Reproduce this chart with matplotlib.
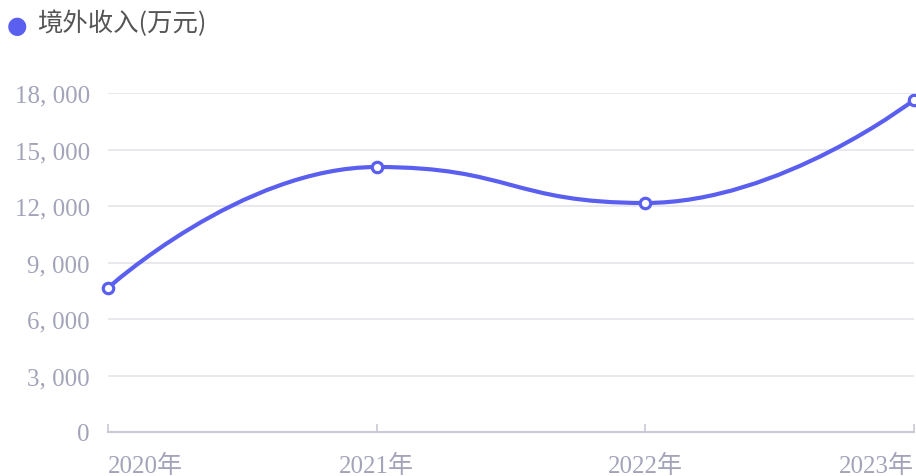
import matplotlib
matplotlib.use("Agg")
import matplotlib.pyplot as plt
from matplotlib.path import Path
from matplotlib.patches import PathPatch
import numpy as np

years = ["2020年", "2021年", "2022年", "2023年"]
income = [7650, 14070, 12160, 17630]
series_name = "境外收入(万元)"
y_ticks = [0, 3000, 6000, 9000, 12000, 15000, 18000]

line_color = "#5a5fef"
tick_color = "#a3a3ba"
tick_font = ["Liberation Serif", "Noto Sans CJK SC"]


def smooth_path(ax, xs, ys, smooth=0.5):
  # monotone-x bezier smoothing in pixel space (horizontal tangents at inner points)
  pts = ax.transData.transform(np.column_stack([xs, ys]))
  n = len(pts)
  verts = [pts[0]]
  codes = [Path.MOVETO]
  for i in range(n - 1):
    p, q = pts[i], pts[i + 1]
    dx = q[0] - p[0]
    cp1 = p if i == 0 else np.array([p[0] + dx * smooth, p[1]])
    cq0 = q if i + 1 == n - 1 else np.array([q[0] - dx * smooth, q[1]])
    verts += [cp1, cq0, q]
    codes += [Path.CURVE4] * 3
  inv = ax.transData.inverted()
  return Path(inv.transform(np.array(verts)), codes)


fig = plt.figure(figsize=(9.16, 4.77), dpi=100)
ax = fig.add_axes([108 / 916, 44 / 477, 806 / 916, 339 / 477])
x = np.arange(len(years))
ax.set_xlim(0, len(years) - 1)
ax.set_ylim(0, 18000)

for s in ["top", "right", "left"]:
  ax.spines[s].set_visible(False)
ax.spines["bottom"].set_color("#c9c9d6")
ax.spines["bottom"].set_linewidth(1.5)

ax.set_yticks(y_ticks)
ax.set_yticklabels([f"{v:,}".replace(",", ", ") for v in y_ticks])
ax.tick_params(axis="y", length=0, pad=13, labelcolor=tick_color, labelsize=18)
for lab in ax.get_yticklabels():
  lab.set_family(tick_font)
ax.grid(axis="y", color="#e6e6ec", linewidth=1.3)
ax.set_axisbelow(True)

ax.set_xticks(x)
ax.set_xticklabels(years)
ax.tick_params(axis="x", direction="in", length=6, width=1.2, color="#c9c9d6",
               pad=16, labelcolor=tick_color, labelsize=18)
xlabels = ax.get_xticklabels()
for lab in xlabels:
  lab.set_family(tick_font)
xlabels[0].set_ha("left")
xlabels[-1].set_ha("right")

path = smooth_path(ax, x, income)
ax.add_patch(PathPatch(path, facecolor="none", edgecolor=line_color, lw=3,
                       capstyle="round", joinstyle="round", clip_on=False, zorder=3))
ax.plot(x, income, linestyle="none", marker="o", markersize=7.5, markerfacecolor="white",
        markeredgecolor=line_color, markeredgewidth=2.3, clip_on=False, zorder=4)

# legend
fig.text(17 / 916, 1 - 26 / 477, "●", color=line_color, fontsize=17, ha="center", va="center",
         family=["DejaVu Sans"])
fig.text(37 / 916, 1 - 24 / 477, series_name, color="#555555", fontsize=18.3, ha="left", va="center",
         family=["Noto Sans CJK SC", "DejaVu Sans"])

fig.savefig("out.png", dpi=100)
